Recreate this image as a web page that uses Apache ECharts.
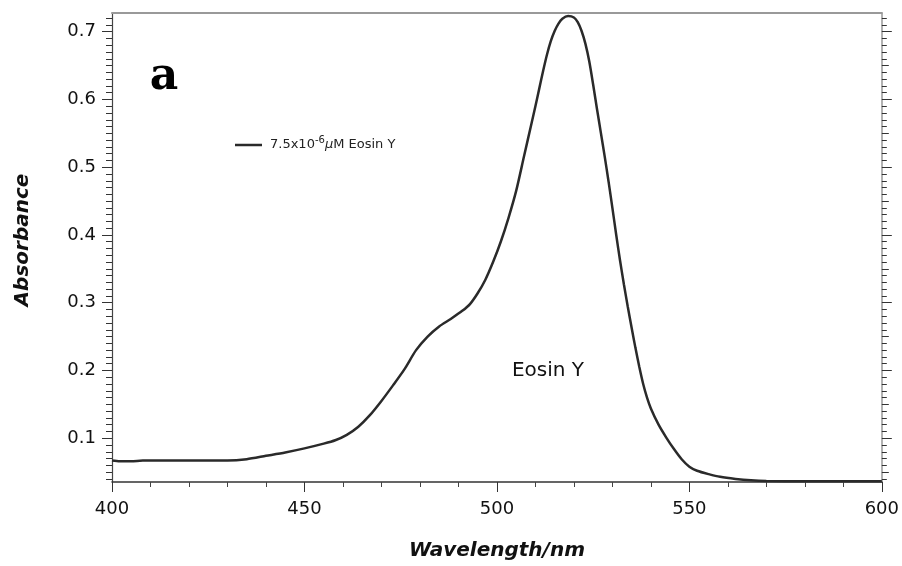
<!DOCTYPE html>
<html>
<head>
<meta charset="utf-8">
<script src="https://cdn.jsdelivr.net/npm/echarts@6/dist/echarts.min.js"></script>
<style>
  html, body { margin: 0; padding: 0; background: #fff; }
  #chart { width: 902px; height: 566px; }
</style>
</head>
<body>
<div id="chart"></div>
<script>
// UV-Vis absorption spectrum of Eosin Y
const wavelength = [400, 402, 405, 408, 410, 420, 430, 435, 440, 445, 450, 455, 458, 461, 464, 467, 470, 473, 476, 479,
  482, 485, 488, 491, 493, 495, 497, 499, 501, 503, 505, 507, 509, 510, 511, 512, 513, 514, 515, 516, 517,
  518.5, 520, 521, 522, 523, 524, 525, 526, 527, 528, 529, 530, 531, 532, 533, 534, 535, 536, 537, 538,
  539, 540, 542, 544, 546, 548, 550, 552, 555, 558, 562, 566, 570, 580, 590, 600];
const absorbance = [0.067, 0.066, 0.066, 0.067, 0.067, 0.067, 0.067, 0.069, 0.074, 0.079, 0.085, 0.092, 0.097, 0.105, 0.117, 0.134, 0.155, 0.178, 0.202, 0.230,
  0.250, 0.265, 0.276, 0.288, 0.298, 0.314, 0.334, 0.360, 0.390, 0.425, 0.465, 0.515, 0.565, 0.590, 0.616, 0.642, 0.666, 0.686, 0.701, 0.712, 0.719,
  0.723, 0.721, 0.714, 0.701, 0.682, 0.656, 0.622, 0.586, 0.551, 0.516, 0.479, 0.440, 0.400, 0.362, 0.327, 0.294, 0.263, 0.233, 0.205, 0.180,
  0.160, 0.144, 0.120, 0.101, 0.084, 0.069, 0.058, 0.052, 0.047, 0.043, 0.040, 0.038, 0.037, 0.0365, 0.0365, 0.0365];

// Axis ticks
const yMajorTicks = [0.1, 0.2, 0.3, 0.4, 0.5, 0.6, 0.7];
const yHalfTicks = [0.05, 0.15, 0.25, 0.35, 0.45, 0.55, 0.65];
const yMinorTicks = [];
for (let i = 4; i <= 72; i++) {
  if (i % 5 !== 0) yMinorTicks.push(+(i / 100).toFixed(2));
}
const yMinorAll = yMinorTicks.concat(yHalfTicks);

const Y_MIN = 0.0354, Y_MAX = 0.7276;
const X_MIN = 400, X_MAX = 600;

const points = wavelength.map((w, i) => [w, absorbance[i]]);

const TICK_FONT = { fontSize: 18, fontFamily: 'DejaVu Sans', color: '#111' };
const LEGEND_FONT = 'DejaVu Sans';

function yAxisDef(position, ticks, len, opts) {
  return Object.assign({
    type: 'value', position: position, min: Y_MIN, max: Y_MAX,
    axisLine: { show: false },
    axisTick: { show: true, length: len, customValues: ticks, lineStyle: { color: '#333', width: 1 } },
    axisLabel: { show: false },
    splitLine: { show: false }
  }, opts || {});
}

const chart = echarts.init(document.getElementById('chart'), null, { renderer: 'canvas' });
chart.setOption({
  animation: false,
  backgroundColor: '#ffffff',
  grid: { left: 112, right: 20, top: 13, bottom: 84 },
  legend: {
    left: 235, top: 135, padding: 0,
    icon: 'rect',
    itemWidth: 27, itemHeight: 2.5, itemGap: 0,
    textStyle: {
      fontFamily: LEGEND_FONT, fontSize: 13, color: '#222', padding: [0, 0, 0, 3],
      rich: {
        t: { fontFamily: LEGEND_FONT, fontSize: 13, color: '#222' },
        s: { fontFamily: LEGEND_FONT, fontSize: 10, color: '#222', padding: [0, 0, 10, 0] },
        m: { fontFamily: LEGEND_FONT, fontSize: 13, color: '#222', fontStyle: 'italic' }
      }
    },
    formatter: () => '{t|7.5x10}{s|-6}{m|μ}{t|M Eosin Y}'
  },
  xAxis: [
    {
      type: 'value', position: 'bottom', min: X_MIN, max: X_MAX, interval: 50,
      axisLine: { show: true, onZero: false, lineStyle: { color: '#333', width: 1.5 } },
      axisTick: { show: true, length: 10, lineStyle: { color: '#333', width: 1 } },
      minorTick: { show: true, splitNumber: 5, length: 5, lineStyle: { color: '#444', width: 1 } },
      axisLabel: Object.assign({ margin: 18 }, TICK_FONT),
      splitLine: { show: false }
    },
    {
      type: 'value', position: 'top', min: X_MIN, max: X_MAX,
      axisLine: { show: true, onZero: false, lineStyle: { color: '#999', width: 2 } },
      axisTick: { show: false }, axisLabel: { show: false }, splitLine: { show: false }
    }
  ],
  yAxis: [
    yAxisDef('left', yMajorTicks, 10, {
      axisLine: { show: true, onZero: false, lineStyle: { color: '#444', width: 1.2 } },
      axisLabel: Object.assign({ show: true, customValues: yMajorTicks, margin: 16,
        formatter: v => v.toFixed(1) }, TICK_FONT)
    }),
    yAxisDef('left', yMinorAll, 6),
    yAxisDef('right', yMajorTicks, 10, {
      axisLine: { show: true, onZero: false, lineStyle: { color: '#999', width: 1.5 } }
    }),
    yAxisDef('right', yHalfTicks, 7),
    yAxisDef('right', yMinorTicks, 5)
  ],
  graphic: [
    {
      type: 'text', x: 164, y: 78, silent: true,
      style: { text: 'a', font: 'bold 44px "DejaVu Serif"', fill: '#000', textAlign: 'center', textVerticalAlign: 'middle' }
    },
    {
      type: 'text', x: 548, y: 371, silent: true,
      style: { text: 'Eosin Y', font: '20px "DejaVu Sans"', fill: '#111', textAlign: 'center', textVerticalAlign: 'middle' }
    },
    {
      type: 'text', x: 23, y: 240, rotation: Math.PI / 2, silent: true,
      style: { text: 'Absorbance', font: 'italic bold 20px "DejaVu Sans"', fill: '#111', textAlign: 'center', textVerticalAlign: 'middle' }
    },
    {
      type: 'text', x: 497, y: 551, silent: true,
      style: { text: 'Wavelength/nm', font: 'italic bold 20px "DejaVu Sans"', fill: '#111', textAlign: 'center', textVerticalAlign: 'middle' }
    }
  ],
  series: [
    {
      name: '7.5x10-6 μM Eosin Y',
      type: 'line',
      xAxisIndex: 0, yAxisIndex: 0,
      data: points,
      symbol: 'none',
      smooth: 0.25,
      lineStyle: { color: '#2a2a2a', width: 2.5 },
      itemStyle: { color: '#2a2a2a' }
    }
  ]
});
</script>
</body>
</html>
